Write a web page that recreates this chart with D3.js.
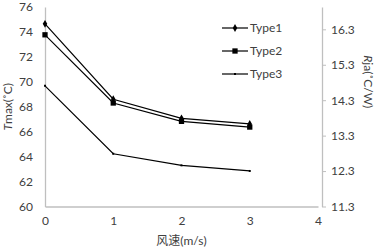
<!DOCTYPE html>
<html>
<head>
<meta charset="utf-8">
<script src="https://cdn.jsdelivr.net/npm/d3@7"></script>
<style>
  body { margin: 0; background: #fff; }
  text { font-family: Lato, "Liberation Sans", "Noto Sans CJK SC", sans-serif; fill: #404040; }
</style>
</head>
<body>
<div id="chart"></div>
<script>
// wind speed categories
const windSpeed = [0, 1, 2, 3];
const type1 = [74.65, 68.6, 67.07, 66.62];
const type2 = [73.77, 68.3, 66.83, 66.37];
const type3 = [69.68, 64.23, 63.3, 62.85];
const seriesNames = ['Type1', 'Type2', 'Type3'];
const leftTicks = [60, 62, 64, 66, 68, 70, 72, 74, 76];
const rightTicks = [11.3, 12.3, 13.3, 14.3, 15.3, 16.3];
const xTicks = [0, 1, 2, 3, 4];

const width = 378, height = 252;
const margin = { top: 7, right: 60, bottom: 45.5, left: 45 };

const svg = d3.select('#chart').append('svg')
    .attr('width', width)
    .attr('height', height);

const x = d3.scaleLinear().domain([0, 4]).range([margin.left, width - margin.right]);
const y = d3.scaleLinear().domain([60, 76]).range([height - margin.bottom, margin.top]);
const y2 = d3.scaleLinear().domain([11.3, 16.93]).range([height - margin.bottom, margin.top]);

const axisColor = '#bfbfbf';
const fontSize = '12px';

// left axis
const leftAxis = svg.append('g')
    .attr('transform', `translate(${margin.left},0)`)
    .call(d3.axisLeft(y).tickValues(leftTicks).tickSize(0).tickPadding(12));
leftAxis.select('.domain').attr('stroke', axisColor).attr('stroke-width', 1.3);
leftAxis.selectAll('text').style('font-size', fontSize).attr('fill', '#404040');

// right axis
const rightAxis = svg.append('g')
    .attr('transform', `translate(${width - margin.right + 4},0)`)
    .call(d3.axisRight(y2).tickValues(rightTicks).tickSize(4).tickSizeOuter(0).tickPadding(5).tickFormat(d3.format('.1f')));
rightAxis.select('.domain').attr('stroke', axisColor).attr('stroke-width', 1.3);
rightAxis.selectAll('line').attr('stroke', axisColor);
rightAxis.selectAll('text').style('font-size', fontSize).attr('fill', '#404040');

// bottom axis
const bottomAxis = svg.append('g')
    .attr('transform', `translate(0,${height - margin.bottom})`)
    .call(d3.axisBottom(x).tickValues(xTicks).tickFormat(d3.format('d')).tickSize(0).tickSizeOuter(0).tickPadding(10));
bottomAxis.select('.domain').attr('stroke', axisColor).attr('stroke-width', 1.3);
bottomAxis.selectAll('text').style('font-size', fontSize).attr('fill', '#404040');

// axis titles
svg.append('text')
    .attr('x', (x(0) + x(4)) / 2)
    .attr('y', 245)
    .attr('text-anchor', 'middle')
    .style('font-size', fontSize)
    .text('风速(m/s)');

const yTitle = svg.append('text')
    .attr('transform', `translate(12,${y(68)}) rotate(-90)`)
    .attr('text-anchor', 'middle')
    .style('font-size', fontSize);
yTitle.append('tspan').style('font-style', 'italic').text('T');
yTitle.append('tspan').text('max(˚C)');

const y2Title = svg.append('text')
    .attr('transform', `translate(364,${y(70)}) rotate(90)`)
    .attr('text-anchor', 'middle')
    .style('font-size', fontSize);
y2Title.append('tspan').style('font-style', 'italic').text('R');
y2Title.append('tspan').text('ja(˚C/W)');

// series
const series = [type1, type2, type3];
const markerSymbols = [d3.symbolDiamond, d3.symbolSquare, d3.symbolSquare];
const markerSizes = [18, 28, 4];

const line = d3.line()
    .x((d, i) => x(windSpeed[i]))
    .y(d => y(d));

series.forEach((vals, s) => {
    svg.append('path')
        .datum(vals)
        .attr('fill', 'none')
        .attr('stroke', '#000')
        .attr('stroke-width', 1.2)
        .attr('d', line);

    svg.selectAll(null)
        .data(vals)
        .enter()
        .append('path')
        .attr('transform', (d, i) => `translate(${x(windSpeed[i])},${y(d)})`)
        .attr('d', d3.symbol().type(markerSymbols[s]).size(markerSizes[s]))
        .attr('fill', '#000');
});

// legend
const legend = svg.append('g').attr('transform', 'translate(222,28)');
seriesNames.forEach((name, s) => {
    const g = legend.append('g').attr('transform', `translate(0,${s * 23})`);
    g.append('line')
        .attr('x1', 0).attr('x2', 26)
        .attr('stroke', '#000').attr('stroke-width', 1.2);
    g.append('path')
        .attr('transform', 'translate(13,0)')
        .attr('d', d3.symbol().type(markerSymbols[s]).size(markerSizes[s]))
        .attr('fill', '#000');
    g.append('text')
        .attr('x', 28)
        .attr('y', 4)
        .style('font-size', fontSize)
        .attr('fill', '#000')
        .text(name);
});
</script>
</body>
</html>
